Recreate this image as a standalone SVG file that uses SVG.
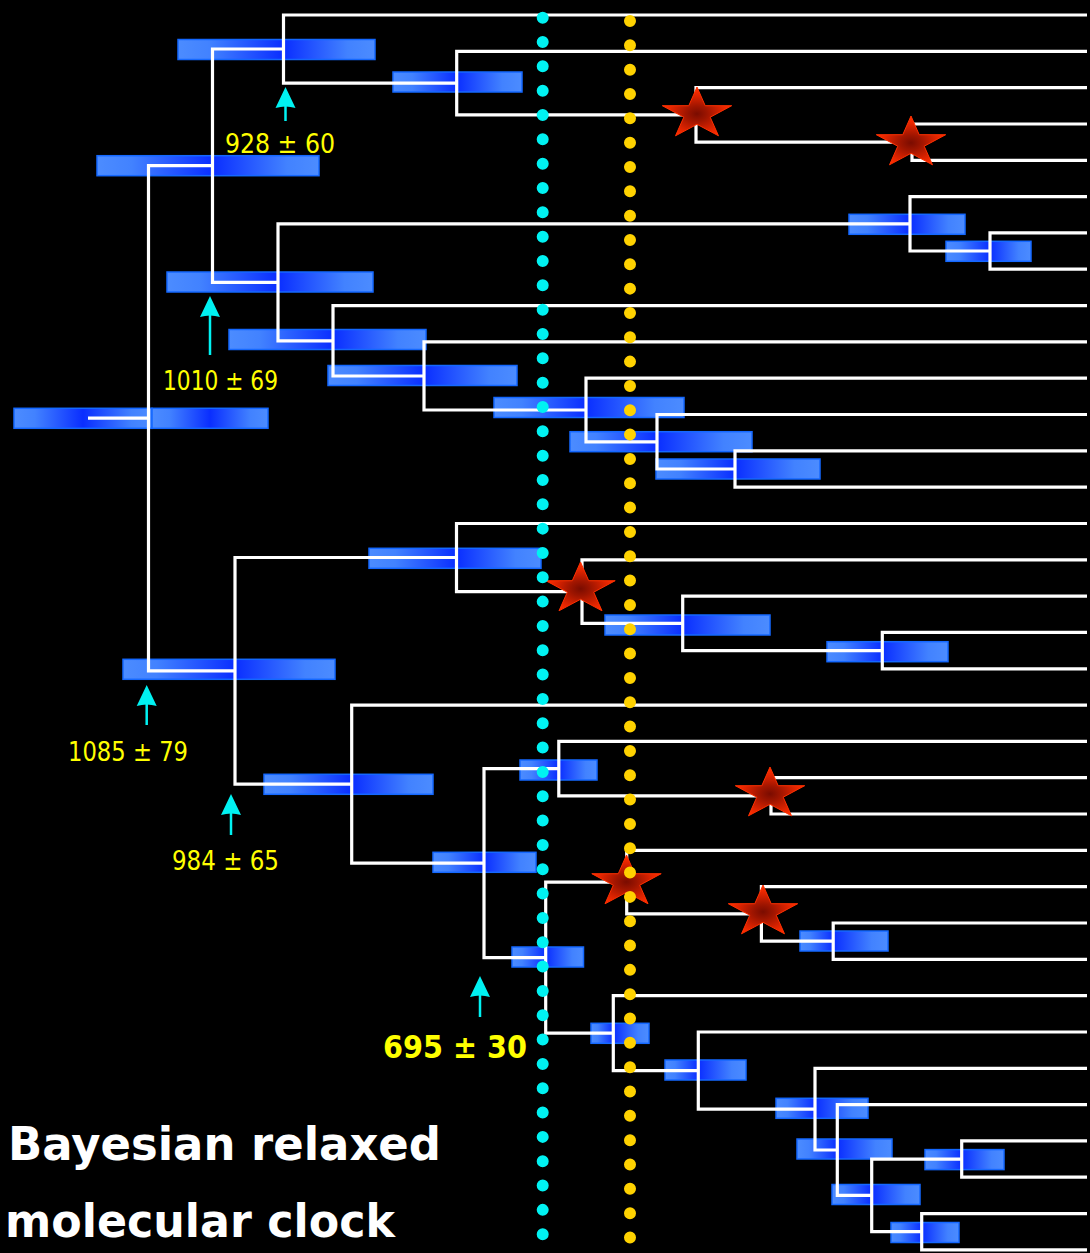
<svg xmlns="http://www.w3.org/2000/svg" xmlns:xlink="http://www.w3.org/1999/xlink" width="1090" height="1253" viewBox="0 0 1090 1253">
<style>
.bl{fill:url(#gl)}
.br{fill:url(#gr)}
.bo{fill:none;stroke:#1468FF;stroke-width:1.5}
.ln{fill:none;stroke:#FFFFFF;stroke-width:3.2;stroke-linejoin:miter}
.st{fill:url(#sg);stroke:#FF3000;stroke-width:1}
.arw{stroke:#00F2F2;stroke-width:2.5}
.ah{fill:#00F2F2}
.lab{font-family:"Comic Sans MS","DejaVu Sans",sans-serif;font-size:26px;fill:#FFFF00}
.labb{font-family:"Comic Sans MS","DejaVu Sans",sans-serif;font-size:32px;font-weight:bold;fill:#FFFF00}
.title{font-family:"Comic Sans MS","DejaVu Sans",sans-serif;font-size:46px;font-weight:bold;fill:#FFFFFF}
</style>
<defs>
<linearGradient id="gl" x1="0" y1="0" x2="1" y2="0">
<stop offset="0" stop-color="#4C8CFF"/><stop offset="0.3" stop-color="#4282FF"/><stop offset="1" stop-color="#0A2EFF"/>
</linearGradient>
<linearGradient id="gr" x1="0" y1="0" x2="1" y2="0">
<stop offset="0" stop-color="#0A2EFF"/><stop offset="0.7" stop-color="#4282FF"/><stop offset="1" stop-color="#4C8CFF"/>
</linearGradient>
<radialGradient id="sg" cx="0.5" cy="0.55" r="0.5">
<stop offset="0" stop-color="#7A0C00"/><stop offset="0.3" stop-color="#9E1500"/><stop offset="0.75" stop-color="#E02400"/><stop offset="1" stop-color="#FF2E00"/>
</radialGradient>
<polygon id="star" class="st" points="0,-27 8.2,-8.3 34.7,-8.3 13.2,3.2 21.5,21.8 0,10.3 -21.5,21.8 -13.2,3.2 -34.7,-8.3 -8.2,-8.3"/>
<path id="ah" class="ah" d="M0,0 L10,21 Q0,18 -10,21 Z"/>
</defs>
<rect x="0" y="0" width="1090" height="1253" fill="#000000"/>

<g id="bars">
<g id="node-root"><rect class="bl" x="14" y="408.3" width="69" height="20"/><rect class="br" x="83" y="408.3" width="69" height="20"/><rect class="bo" x="14" y="408.3" width="138" height="20"/><rect class="bl" x="152" y="408.3" width="58" height="20"/><rect class="br" x="210" y="408.3" width="58" height="20"/><rect class="bo" x="152" y="408.3" width="116" height="20"/></g>
<g id="node-A"><rect class="bl" x="178" y="39.5" width="105.5" height="20"/><rect class="br" x="283.5" y="39.5" width="91.5" height="20"/><rect class="bo" x="178" y="39.5" width="197" height="20"/></g>
<g id="node-A2"><rect class="bl" x="393" y="72" width="63.7" height="20"/><rect class="br" x="456.7" y="72" width="65.3" height="20"/><rect class="bo" x="393" y="72" width="129" height="20"/></g>
<g id="node-B"><rect class="bl" x="97" y="155.7" width="115.5" height="20"/><rect class="br" x="212.5" y="155.7" width="106.5" height="20"/><rect class="bo" x="97" y="155.7" width="222" height="20"/></g>
<g id="node-C"><rect class="bl" x="167" y="272" width="111" height="20"/><rect class="br" x="278" y="272" width="95" height="20"/><rect class="bo" x="167" y="272" width="206" height="20"/></g>
<g id="node-D"><rect class="bl" x="849" y="214.3" width="61" height="20"/><rect class="br" x="910" y="214.3" width="55" height="20"/><rect class="bo" x="849" y="214.3" width="116" height="20"/></g>
<g id="node-E"><rect class="bl" x="946" y="241.3" width="44" height="20"/><rect class="br" x="990" y="241.3" width="41" height="20"/><rect class="bo" x="946" y="241.3" width="85" height="20"/></g>
<g id="node-F"><rect class="bl" x="229" y="329.5" width="104" height="20"/><rect class="br" x="333" y="329.5" width="93" height="20"/><rect class="bo" x="229" y="329.5" width="197" height="20"/></g>
<g id="node-G"><rect class="bl" x="328" y="365.5" width="96" height="20"/><rect class="br" x="424" y="365.5" width="93" height="20"/><rect class="bo" x="328" y="365.5" width="189" height="20"/></g>
<g id="node-H"><rect class="bl" x="494" y="397.5" width="92" height="20"/><rect class="br" x="586" y="397.5" width="98" height="20"/><rect class="bo" x="494" y="397.5" width="190" height="20"/></g>
<g id="node-I"><rect class="bl" x="570" y="431.7" width="87" height="20"/><rect class="br" x="657" y="431.7" width="95" height="20"/><rect class="bo" x="570" y="431.7" width="182" height="20"/></g>
<g id="node-J"><rect class="bl" x="656" y="459" width="79" height="20"/><rect class="br" x="735" y="459" width="85" height="20"/><rect class="bo" x="656" y="459" width="164" height="20"/></g>
<g id="node-K"><rect class="bl" x="369" y="548.3" width="87.5" height="20"/><rect class="br" x="456.5" y="548.3" width="84.5" height="20"/><rect class="bo" x="369" y="548.3" width="172" height="20"/></g>
<g id="node-M"><rect class="bl" x="605" y="615" width="77.7" height="20"/><rect class="br" x="682.7" y="615" width="87.3" height="20"/><rect class="bo" x="605" y="615" width="165" height="20"/></g>
<g id="node-N"><rect class="bl" x="827" y="641.7" width="55.3" height="20"/><rect class="br" x="882.3" y="641.7" width="65.7" height="20"/><rect class="bo" x="827" y="641.7" width="121" height="20"/></g>
<g id="node-P"><rect class="bl" x="123" y="659.3" width="112" height="20"/><rect class="br" x="235" y="659.3" width="100" height="20"/><rect class="bo" x="123" y="659.3" width="212" height="20"/></g>
<g id="node-Q"><rect class="bl" x="264" y="774.3" width="87.7" height="20"/><rect class="br" x="351.7" y="774.3" width="81.3" height="20"/><rect class="bo" x="264" y="774.3" width="169" height="20"/></g>
<g id="node-R"><rect class="bl" x="433" y="852.3" width="51" height="20"/><rect class="br" x="484" y="852.3" width="52" height="20"/><rect class="bo" x="433" y="852.3" width="103" height="20"/></g>
<g id="node-S"><rect class="bl" x="520" y="760" width="38.8" height="20"/><rect class="br" x="558.8" y="760" width="38.2" height="20"/><rect class="bo" x="520" y="760" width="77" height="20"/></g>
<g id="node-U"><rect class="bl" x="512" y="947" width="33.7" height="20"/><rect class="br" x="545.7" y="947" width="37.8" height="20"/><rect class="bo" x="512" y="947" width="71.5" height="20"/></g>
<g id="node-X"><rect class="bl" x="800" y="931" width="33.2" height="20"/><rect class="br" x="833.2" y="931" width="54.8" height="20"/><rect class="bo" x="800" y="931" width="88" height="20"/></g>
<g id="node-Y"><rect class="bl" x="591" y="1023.3" width="22.3" height="20"/><rect class="br" x="613.3" y="1023.3" width="35.7" height="20"/><rect class="bo" x="591" y="1023.3" width="58" height="20"/></g>
<g id="node-Z"><rect class="bl" x="665" y="1060" width="33.3" height="20"/><rect class="br" x="698.3" y="1060" width="47.7" height="20"/><rect class="bo" x="665" y="1060" width="81" height="20"/></g>
<g id="node-AA"><rect class="bl" x="776" y="1098.3" width="39" height="20"/><rect class="br" x="815" y="1098.3" width="53" height="20"/><rect class="bo" x="776" y="1098.3" width="92" height="20"/></g>
<g id="node-AB"><rect class="bl" x="797" y="1139" width="40.3" height="20"/><rect class="br" x="837.3" y="1139" width="54.7" height="20"/><rect class="bo" x="797" y="1139" width="95" height="20"/></g>
<g id="node-AC"><rect class="bl" x="832" y="1184.5" width="39.7" height="20"/><rect class="br" x="871.7" y="1184.5" width="48.3" height="20"/><rect class="bo" x="832" y="1184.5" width="88" height="20"/></g>
<g id="node-AD"><rect class="bl" x="925" y="1149.6" width="36.7" height="20"/><rect class="br" x="961.7" y="1149.6" width="42.3" height="20"/><rect class="bo" x="925" y="1149.6" width="79" height="20"/></g>
<g id="node-AE"><rect class="bl" x="891" y="1222.5" width="30.7" height="20"/><rect class="br" x="921.7" y="1222.5" width="37.3" height="20"/><rect class="bo" x="891" y="1222.5" width="68" height="20"/></g>
</g>

<g id="connectors">
<path class="ln" d="M88,418.2 H148.5"/>
<path class="ln" d="M212.5,165.7 H148.5 V670.8 H235"/>
<path class="ln" d="M283.5,49 H212.5 V282.3 H278"/>
<path class="ln" d="M1087,15 H283.5 V83.1 H456.7"/>
<path class="ln" d="M1087,51.3 H456.7 V114.9 H696"/>
<path class="ln" d="M1087,87.6 H696 V142.1 H912"/>
<path class="ln" d="M1087,124 H912 V160.3 H1087"/>
<path class="ln" d="M910,223.8 H278 V340.8 H333"/>
<path class="ln" d="M1087,196.6 H910 V251 H990"/>
<path class="ln" d="M1087,232.9 H990 V269.2 H1087"/>
<path class="ln" d="M1087,305.6 H333 V376 H424"/>
<path class="ln" d="M1087,341.9 H424 V410 H586"/>
<path class="ln" d="M1087,378.2 H586 V441.8 H657"/>
<path class="ln" d="M1087,414.5 H657 V469 H735"/>
<path class="ln" d="M1087,450.8 H735 V487.2 H1087"/>
<path class="ln" d="M456.5,557.5 H235 V784.1 H351.7"/>
<path class="ln" d="M1087,523.5 H456.5 V591.6 H582"/>
<path class="ln" d="M1087,559.8 H582 V623.4 H682.7"/>
<path class="ln" d="M1087,596.1 H682.7 V650.6 H882.3"/>
<path class="ln" d="M1087,632.4 H882.3 V668.8 H1087"/>
<path class="ln" d="M1087,705.1 H351.7 V863.1 H484"/>
<path class="ln" d="M558.8,768.6 H484 V957.6 H545.7"/>
<path class="ln" d="M1087,741.4 H558.8 V795.9 H771"/>
<path class="ln" d="M1087,777.7 H771 V814 H1087"/>
<path class="ln" d="M626.7,882.2 H545.7 V1033.1 H613.3"/>
<path class="ln" d="M1087,850.4 H626.7 V913.9 H761.4"/>
<path class="ln" d="M1087,886.7 H761.4 V941.2 H833.2"/>
<path class="ln" d="M1087,923 H833.2 V959.3 H1087"/>
<path class="ln" d="M1087,995.6 H613.3 V1070.6 H698.3"/>
<path class="ln" d="M1087,1032 H698.3 V1109.1 H815"/>
<path class="ln" d="M1087,1068.3 H815 V1150 H837.3"/>
<path class="ln" d="M1087,1104.6 H837.3 V1195.4 H871.7"/>
<path class="ln" d="M961.7,1159.1 H871.7 V1231.7 H921.7"/>
<path class="ln" d="M1087,1140.9 H961.7 V1177.2 H1087"/>
<path class="ln" d="M1087,1213.6 H921.7 V1249.9 H1087"/>
</g>

<g id="stars">
<g id="node-A3"><use xlink:href="#star" href="#star" x="697" y="114"/></g>
<g id="node-A4"><use xlink:href="#star" href="#star" x="911" y="143"/></g>
<g id="node-L"><use xlink:href="#star" href="#star" x="580.5" y="589"/></g>
<g id="node-T"><use xlink:href="#star" href="#star" x="770" y="794"/></g>
<g id="node-V"><use xlink:href="#star" href="#star" x="626.5" y="882"/></g>
<g id="node-W"><use xlink:href="#star" href="#star" x="763" y="912"/></g>
</g>

<g id="time-lines">
<line x1="542.7" y1="17.7" x2="542.7" y2="1235" stroke="#00F2F2" stroke-width="12" stroke-linecap="round" stroke-dasharray="0 24.33"/>
<line x1="630" y1="21" x2="630" y2="1238" stroke="#FFD200" stroke-width="12" stroke-linecap="round" stroke-dasharray="0 24.33"/>
</g>

<g id="arrows">
<line class="arw" x1="285.5" y1="106" x2="285.5" y2="121"/><use xlink:href="#ah" href="#ah" x="285.5" y="87"/>
<line class="arw" x1="210" y1="315" x2="210" y2="355"/><use xlink:href="#ah" href="#ah" x="210" y="296"/>
<line class="arw" x1="146.7" y1="704" x2="146.7" y2="725"/><use xlink:href="#ah" href="#ah" x="146.7" y="685"/>
<line class="arw" x1="231" y1="813" x2="231" y2="835"/><use xlink:href="#ah" href="#ah" x="231" y="794"/>
<line class="arw" x1="480" y1="995" x2="480" y2="1017"/><use xlink:href="#ah" href="#ah" x="480" y="976"/>
</g>

<g id="labels">
<text class="lab" x="225" y="153" textLength="110" lengthAdjust="spacingAndGlyphs">928 ± 60</text>
<text class="lab" x="163" y="390" textLength="115" lengthAdjust="spacingAndGlyphs">1010 ± 69</text>
<text class="lab" x="68" y="761" textLength="120" lengthAdjust="spacingAndGlyphs">1085 ± 79</text>
<text class="lab" x="172" y="870" textLength="107" lengthAdjust="spacingAndGlyphs">984 ± 65</text>
<text class="labb" x="383" y="1058" textLength="144" lengthAdjust="spacingAndGlyphs">695 ± 30</text>
<text class="title" x="8" y="1160" textLength="433" lengthAdjust="spacingAndGlyphs">Bayesian relaxed</text>
<text class="title" x="5" y="1237" textLength="390" lengthAdjust="spacingAndGlyphs">molecular clock</text>
</g>
</svg>
